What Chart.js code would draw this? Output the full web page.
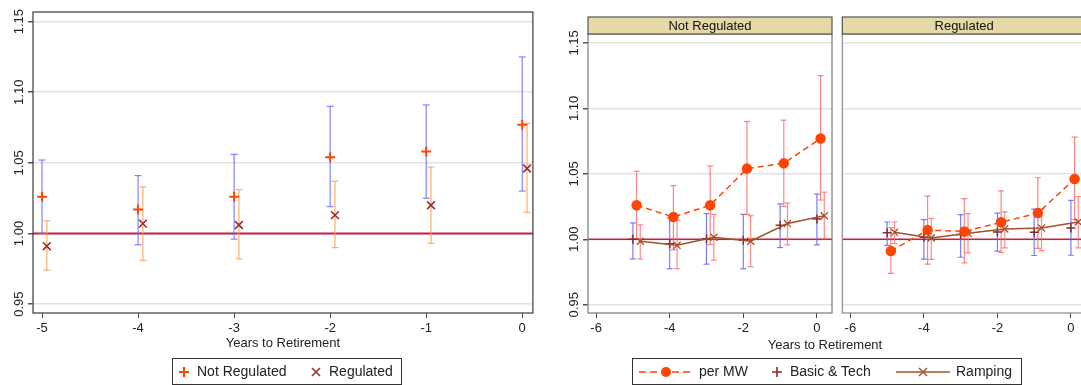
<!DOCTYPE html>
<html>
<head>
<meta charset="utf-8">
<script src="https://cdn.jsdelivr.net/npm/chart.js@4.4.1/dist/chart.umd.min.js"></script>
<style>
  html, body { margin: 0; padding: 0; background: #fff; overflow: hidden; width: 1081px; height: 385px; }
  body { position: relative; font-family: "Liberation Sans", Arial, sans-serif; color: #222; }
  canvas { position: absolute; top: 0; }
  #left { left: 0; }
  #facet1 { left: 540px; }
  #facet2 { left: 836px; }
  .axtitle { position: absolute; font-size: 13px; white-space: nowrap; transform: translateX(-50%); }
  .legend { position: absolute; top: 358px; height: 27px; border: 1px solid #333; box-sizing: border-box; font-size: 14px; }
  .legend span, .legend svg { position: absolute; }
  .legend span { top: 4px; white-space: nowrap; }
</style>
</head>
<body>
<canvas id="left" width="540" height="385"></canvas>
<canvas id="facet1" width="300" height="385"></canvas>
<canvas id="facet2" width="258" height="385"></canvas>

<div class="axtitle" style="left:825px; top:337px;">Years to Retirement</div>

<div class="legend" style="left:172px; width:230px;">
  <svg style="left:4px; top:6px;" width="14" height="14"><path d="M2 7H12M7 2V12" stroke="#ff4500" stroke-width="2"/></svg>
  <span style="left:24px;">Not Regulated</span>
  <svg style="left:136px; top:6px;" width="14" height="14"><path d="M3 3L11 11M11 3L3 11" stroke="#9b2d2d" stroke-width="1.6"/></svg>
  <span style="left:156px;">Regulated</span>
</div>

<div class="legend" style="left:632px; width:390px;">
  <svg style="left:5px; top:5px;" width="56" height="16"><path d="M1 8H55" stroke="#ff4500" stroke-width="1.6" stroke-dasharray="7 4"/><circle cx="28" cy="8" r="5" fill="#ff4500"/></svg>
  <span style="left:66px;">per MW</span>
  <svg style="left:137px; top:6px;" width="14" height="14"><path d="M2 7H12M7 2V12" stroke="#8b2a2a" stroke-width="1.6"/></svg>
  <span style="left:157px;">Basic &amp; Tech</span>
  <svg style="left:262px; top:5px;" width="56" height="16"><path d="M1 8H55" stroke="#a0522d" stroke-width="1.6"/><path d="M24 4L32 12M32 4L24 12" stroke="#a0522d" stroke-width="1.4"/></svg>
  <span style="left:323px;">Ramping</span>
</div>

<script>
// years to retirement
const years = [-5, -4, -3, -2, -1, 0];
const refLevel = 1;

// left panel (also "per MW" in right panel)
const notRegEst = [1.026, 1.017, 1.026, 1.054, 1.058, 1.077];
const notRegLo  = [1.000, 0.992, 0.996, 1.019, 1.025, 1.030];
const notRegHi  = [1.052, 1.041, 1.056, 1.090, 1.091, 1.125];
const regEst = [0.991, 1.007, 1.006, 1.013, 1.020, 1.046];
const regLo  = [0.974, 0.981, 0.982, 0.990, 0.993, 1.015];
const regHi  = [1.009, 1.033, 1.031, 1.037, 1.047, 1.078];

// right panel, Not Regulated facet
const basicNotRegEst = [1.000, 0.9965, 1.0005, 0.9993, 1.0107, 1.0155];
const basicNotRegLo  = [0.985, 0.9775, 0.981, 0.9775, 0.9937, 0.9957];
const basicNotRegHi  = [1.0125, 1.0163, 1.0196, 1.019, 1.027, 1.0345];
const rampNotRegEst = [0.9985, 0.9954, 1.0015, 0.9985, 1.012, 1.018];
const rampNotRegLo  = [0.985, 0.9775, 0.984, 0.979, 0.9957, 1.0003];
const rampNotRegHi  = [1.011, 1.0145, 1.019, 1.018, 1.0277, 1.036];

// right panel, Regulated facet
const basicRegEst = [1.005, 1.0015, 1.0036, 1.0056, 1.0053, 1.0087];
const basicRegLo  = [0.9954, 0.9848, 0.9863, 0.991, 0.9876, 0.9878];
const basicRegHi  = [1.0132, 1.015, 1.0188, 1.020, 1.023, 1.0297];
const rampRegEst = [1.0053, 1.001, 1.0046, 1.0079, 1.0087, 1.0132];
const rampRegLo  = [0.9967, 0.9846, 0.9896, 0.9935, 0.9914, 0.9935];
const rampRegHi  = [1.0132, 1.016, 1.0196, 1.021, 1.023, 1.0327];

const yTicks = { min: 0.9437, max: 1.1568, step: 0.05 };

Chart.defaults.font.family = "'Liberation Sans', Arial, sans-serif";
Chart.defaults.font.size = 13;
Chart.defaults.color = '#222';

// point pairs split by nulls -> one vertical segment per year, caps from pointStyle 'line'
function ciData(lo, hi, off) {
  const out = [];
  years.forEach((x, i) => {
    out.push({ x: x + off, y: lo[i] }, { x: x + off, y: hi[i] }, { x: x + off, y: null });
  });
  return out;
}
function ptData(vals, off) {
  return years.map((x, i) => ({ x: x + off, y: vals[i] }));
}
function ciSet(lo, hi, off, color, cap) {
  return {
    data: ciData(lo, hi, off), showLine: true, spanGaps: false,
    borderColor: color, borderWidth: 1.2,
    pointStyle: 'line', pointRadius: cap, pointBorderColor: color, pointBorderWidth: 1.2,
    order: 10
  };
}

const framePlugin = {
  id: 'frame',
  beforeDatasetsDraw(chart, args, opts) {
    const { ctx, chartArea: a, scales: { y } } = chart;
    const py = y.getPixelForValue(refLevel);
    ctx.save();
    ctx.strokeStyle = '#c4203f';
    ctx.lineWidth = opts.refWidth || 1.6;
    ctx.beginPath();
    ctx.moveTo(a.left, py);
    ctx.lineTo(a.right, py);
    ctx.stroke();
    ctx.restore();
  },
  afterDraw(chart, args, opts) {
    const { ctx, chartArea: a, scales: { y } } = chart;
    ctx.save();
    ctx.strokeStyle = opts.color || '#444';
    ctx.lineWidth = 1.2;
    ctx.strokeRect(a.left, a.top, a.right - a.left, a.bottom - a.top);
    if (opts.yLabels) {
      ctx.fillStyle = '#222';
      ctx.font = "13px 'Liberation Sans', Arial, sans-serif";
      ctx.textAlign = 'center';
      ctx.textBaseline = 'middle';
      y.ticks.forEach(t => {
        const py = y.getPixelForValue(t.value);
        ctx.save();
        ctx.translate(a.left - 14, py);
        ctx.rotate(-Math.PI / 2);
        ctx.fillText(t.value.toFixed(2), 0, 0);
        ctx.restore();
      });
    }
    if (opts.header) {
      ctx.fillStyle = '#e6d9a8';
      ctx.fillRect(a.left, 17, a.right - a.left, a.top - 17);
      ctx.strokeStyle = '#555';
      ctx.strokeRect(a.left, 17, a.right - a.left, a.top - 17);
      ctx.fillStyle = '#111';
      ctx.font = "13px 'Liberation Sans', Arial, sans-serif";
      ctx.textAlign = 'center';
      ctx.textBaseline = 'middle';
      ctx.fillText(opts.header, (a.left + a.right) / 2, (17 + a.top) / 2 + 0.5);
    }
    ctx.restore();
  }
};

function makeOptions(cfg) {
  return {
    responsive: false,
    animation: false,
    events: [],
    layout: { padding: { top: cfg.top, right: cfg.right, left: 0, bottom: 28 } },
    plugins: {
      legend: { display: false },
      tooltip: { enabled: false },
      frame: cfg.frame
    },
    scales: {
      x: {
        type: 'linear', min: cfg.xMin, max: cfg.xMax,
        ticks: { stepSize: cfg.xStep, includeBounds: false, padding: 3, color: '#222', font: { size: 13 } },
        grid: { drawOnChartArea: false, drawTicks: true, tickLength: 5, tickColor: '#444' },
        border: { display: false },
        title: cfg.xTitle
          ? { display: true, text: cfg.xTitle, font: { size: 13 }, color: '#222', padding: { top: 0, bottom: 6 } }
          : { display: false },
        afterFit: s => { s.height = 44; }
      },
      y: {
        type: 'linear', min: yTicks.min, max: yTicks.max,
        ticks: { stepSize: yTicks.step, includeBounds: false, display: false },
        grid: { color: '#e2e2e2', lineWidth: 1.5, drawTicks: cfg.yTicks, tickLength: 5, tickColor: '#555' },
        border: { display: false },
        afterFit: s => { s.width = cfg.yWidth; }
      }
    }
  };
}

// left panel
new Chart(document.getElementById('left'), {
  type: 'scatter',
  data: {
    datasets: [
      { data: ptData(notRegEst, 0), pointStyle: 'cross', pointRadius: 5, pointBorderWidth: 2,
        pointBorderColor: '#ff4500', pointBackgroundColor: '#ff4500', order: 1 },
      { data: ptData(regEst, 0.05), pointStyle: 'crossRot', pointRadius: 5.5, pointBorderWidth: 1.6,
        pointBorderColor: '#9b2d2d', pointBackgroundColor: '#9b2d2d', order: 1 },
      ciSet(notRegLo, notRegHi, 0, 'rgba(110,110,255,0.85)', 3.5),
      ciSet(regLo, regHi, 0.05, 'rgba(255,160,80,0.85)', 3.5)
    ]
  },
  options: makeOptions({
    top: 12, right: 6, xMin: -5.094, xMax: 0.111, xStep: 1, yWidth: 33, yTicks: true,
    xTitle: 'Years to Retirement',
    frame: { color: '#3a3a3a', yLabels: true, refWidth: 2 }
  }),
  plugins: [framePlugin]
});

function facetDatasets(est, lo, hi, bEst, bLo, bHi, rEst, rLo, rHi) {
  return [
    { data: ptData(est, 0.1), showLine: true, borderColor: '#ff4500', borderWidth: 1.5, borderDash: [6, 4],
      pointStyle: 'circle', pointRadius: 4.5, pointBackgroundColor: '#ff4500', pointBorderColor: '#ff4500', order: 1 },
    { data: ptData(rEst, 0.2), showLine: true, borderColor: '#a0522d', borderWidth: 1.5,
      pointStyle: 'crossRot', pointRadius: 5, pointBorderWidth: 1.3, pointBorderColor: '#a0522d', order: 2 },
    { data: ptData(bEst, 0), pointStyle: 'cross', pointRadius: 4.5, pointBorderWidth: 1.5,
      pointBorderColor: '#8b2a2a', order: 3 },
    ciSet(lo, hi, 0.1, 'rgba(255,90,90,0.75)', 3),
    ciSet(rLo, rHi, 0.2, 'rgba(255,100,100,0.75)', 3),
    ciSet(bLo, bHi, 0, 'rgba(100,100,255,0.85)', 3)
  ];
}

// right panel, Not Regulated facet
new Chart(document.getElementById('facet1'), {
  type: 'scatter',
  data: { datasets: facetDatasets(notRegEst, notRegLo, notRegHi,
    basicNotRegEst, basicNotRegLo, basicNotRegHi, rampNotRegEst, rampNotRegLo, rampNotRegHi) },
  options: makeOptions({
    top: 34, right: 8, xMin: -6.22, xMax: 0.41, xStep: 2, yWidth: 48, yTicks: true,
    frame: { color: '#7a7a7a', yLabels: true, header: 'Not Regulated' }
  }),
  plugins: [framePlugin]
});

// right panel, Regulated facet
new Chart(document.getElementById('facet2'), {
  type: 'scatter',
  data: { datasets: facetDatasets(regEst, regLo, regHi,
    basicRegEst, basicRegLo, basicRegHi, rampRegEst, rampRegLo, rampRegHi) },
  options: makeOptions({
    top: 34, right: 8, xMin: -6.22, xMax: 0.41, xStep: 2, yWidth: 6, yTicks: false,
    frame: { color: '#8a8a8a', yLabels: false, header: 'Regulated' }
  }),
  plugins: [framePlugin]
});
</script>
</body>
</html>
